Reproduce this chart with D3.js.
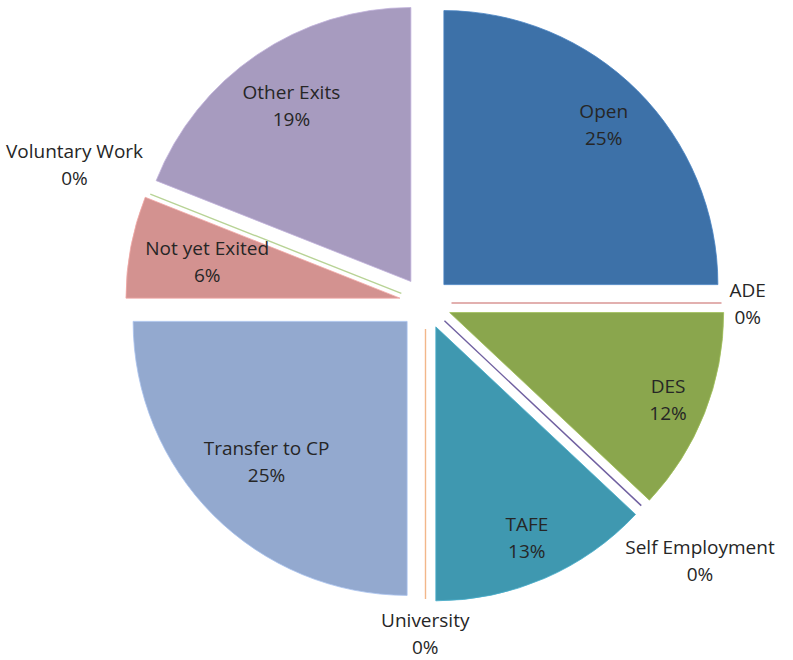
<!DOCTYPE html>
<html>
<head>
<meta charset="utf-8">
<script src="https://cdn.jsdelivr.net/npm/d3@7"></script>
<style>
  body { margin: 0; background: #fff; }
  svg text { font-family: "Open Sans", "Noto Sans", sans-serif; font-size: 19px; fill: #262626; }
</style>
</head>
<body>
<svg id="chart" width="793" height="660"></svg>
<script>
'use strict'
// slices, clockwise from 12 o'clock
const categories = ['Open', 'ADE', 'DES', 'Self Employment', 'TAFE', 'University',
  'Transfer to CP', 'Not yet Exited', 'Voluntary Work', 'Other Exits']
const percents = [25, 0, 12, 0, 13, 0, 25, 6, 0, 19]
const colors = ['#3D71A8', '#D99694', '#8AA64D', '#7060A0', '#3F98B0', '#F2B78A',
  '#93A9CF', '#D39290', '#B8D396', '#A79BBF']

const cx = 425.5, cy = 303,
  radius = 274,
  explode = 26,
  lineH = 27

const svg = d3.select('#chart')

const data = categories.map((c, i) => ({ name: c, value: percents[i], color: colors[i] }))

const pie = d3.pie().sort(null).value(d => d.value)
const arcs = pie(data)

const arc = d3.arc().innerRadius(0).outerRadius(radius)

const dirOf = a => [Math.sin(a), -Math.cos(a)]

const g = svg.append('g').attr('transform', 'translate(' + cx + ',' + cy + ')')

// two-line label, placed so its box centre sits at (x, y)
const addLabel = function(parent, d) {
  const t = parent.append('text').attr('text-anchor', 'middle')
  t.append('tspan').attr('x', 0).attr('y', 0).text(d.data.name)
  t.append('tspan').attr('x', 0).attr('y', lineH).text(d.data.value + '%')
  return t
}

arcs.forEach(d => {
  const mid = (d.startAngle + d.endAngle) / 2
  const [dx, dy] = dirOf(mid)
  const slice = g.append('g')
    .attr('transform', 'translate(' + dx * explode + ',' + dy * explode + ')')

  if (d.data.value > 0) {
    slice.append('path')
      .attr('d', arc(d))
      .attr('fill', d.data.color)
      .attr('stroke', d3.color(d.data.color).brighter(0.4))
      .attr('stroke-width', 0.8)
  } else {
    // a zero slice shows as a thin line
    slice.append('line')
      .attr('x1', 0).attr('y1', 0)
      .attr('x2', dx * (radius - 4)).attr('y2', dy * (radius - 4))
      .attr('stroke', d.data.color)
      .attr('stroke-width', 1.4)
  }

  const t = addLabel(slice, d)
  const bb = t.node().getBBox()
  const ext = bb.width / 2 * Math.abs(dx) + bb.height / 2 * Math.abs(dy)
  // inside: box edge kept just inside the rim; outside: box pushed past the line end
  const dist = d.data.value > 0 ? radius - 12 - ext : radius + 4 + ext
  const bx = bb.x + bb.width / 2, by = bb.y + bb.height / 2
  t.attr('transform', 'translate(' + (dx * dist - bx) + ',' + (dy * dist - by) + ')')
})
</script>
</body>
</html>
